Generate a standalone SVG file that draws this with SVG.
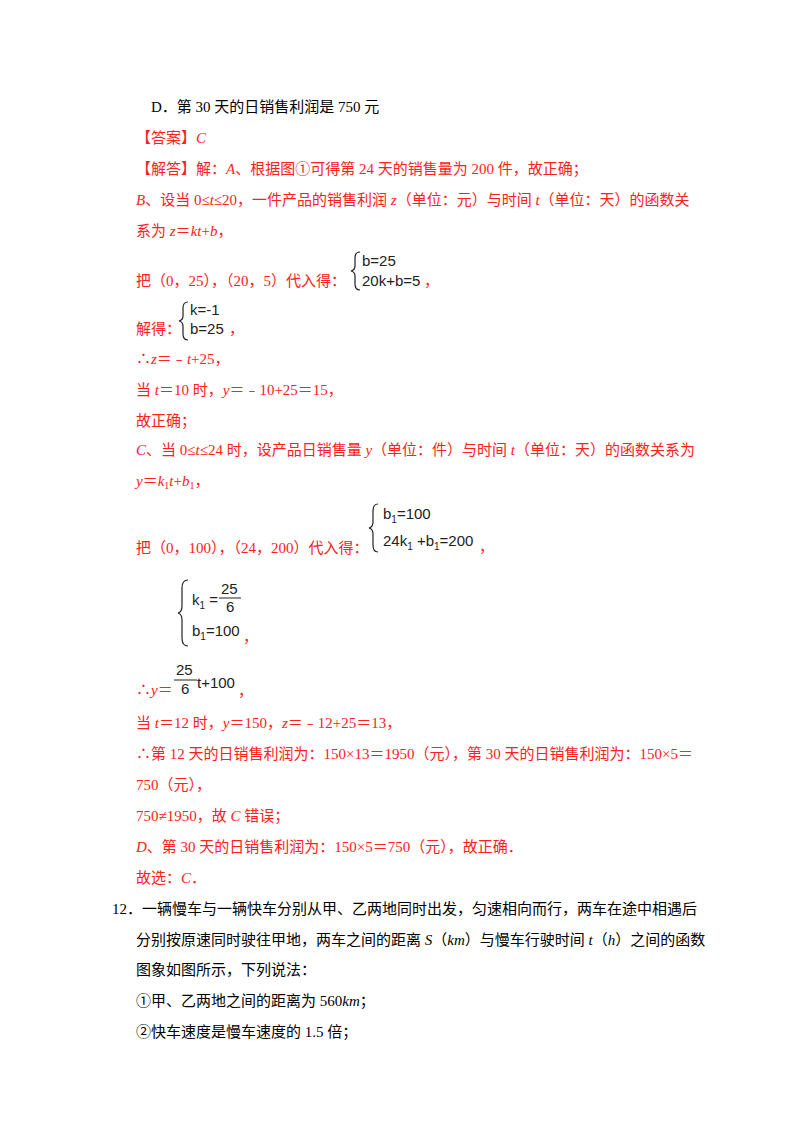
<svg xmlns="http://www.w3.org/2000/svg" width="800" height="1132" viewBox="0 0 800 1132">
<style>
text{font-family:"Liberation Serif","Noto Sans CJK SC",serif;font-size:15px;fill:#000}
.r{fill:#ff2020}
.m{font-family:"Liberation Sans","DejaVu Sans",sans-serif;font-size:15px;fill:#222}
.s{font-size:10px}
.br{fill:none;stroke:#222;stroke-width:1.2}
</style>
<rect width="800" height="1132" fill="#fff"/>
<text x="151" y="112">D．第 30 天的日销售利润是 750 元</text>
<text class="r" x="136" y="143">【答案】<tspan font-style="italic">C</tspan></text>
<text class="r" x="136" y="174">【解答】解：<tspan font-style="italic">A</tspan>、根据图①可得第 24 天的销售量为 200 件，故正确；</text>
<text class="r" x="136" y="205"><tspan font-style="italic">B</tspan>、设当 0≤<tspan font-style="italic">t</tspan>≤20，一件产品的销售利润 <tspan font-style="italic">z</tspan>（单位：元）与时间 <tspan font-style="italic">t</tspan>（单位：天）的函数关</text>
<text class="r" x="136" y="236">系为 <tspan font-style="italic">z</tspan>＝<tspan font-style="italic">kt</tspan>+<tspan font-style="italic">b</tspan>，</text>
<text class="r" x="136" y="286">把（0，25），（20，5）代入得：</text>
<path class="br" d="M360,252 q-5,0 -5,6 v8 q0,4 -4,5 q4,1 4,5 v8 q0,6 5,6"/>
<text class="m" x="362" y="266">b=25</text>
<text class="m" x="362" y="286">20k+b=5</text>
<text class="r" x="424" y="286">，</text>
<text class="r" x="136" y="334">解得：</text>
<path class="br" d="M188,302 q-5,0 -5,6 v8 q0,4 -4,5 q4,1 4,5 v8 q0,6 5,6"/>
<text class="m" x="190" y="315">k=-1</text>
<text class="m" x="190" y="334">b=25</text>
<text class="r" x="229" y="334">，</text>
<text class="r" x="136" y="364">∴<tspan font-style="italic">z</tspan>＝﹣<tspan font-style="italic">t</tspan>+25，</text>
<text class="r" x="136" y="395">当 <tspan font-style="italic">t</tspan>＝10 时，<tspan font-style="italic">y</tspan>＝﹣10+25＝15，</text>
<text class="r" x="136" y="426">故正确；</text>
<text class="r" x="136" y="455"><tspan font-style="italic">C</tspan>、当 0≤<tspan font-style="italic">t</tspan>≤24 时，设产品日销售量 <tspan font-style="italic">y</tspan>（单位：件）与时间 <tspan font-style="italic">t</tspan>（单位：天）的函数关系为</text>
<text class="r" x="136" y="486"><tspan font-style="italic">y</tspan>＝<tspan font-style="italic">k</tspan><tspan class="s" dy="3">1</tspan><tspan dy="-3" font-style="italic">t</tspan>+<tspan font-style="italic">b</tspan><tspan class="s" dy="3">1</tspan><tspan dy="-3">，</tspan></text>
<text class="r" x="136" y="553">把（0，100），（24，200）代入得：</text>
<path class="br" d="M378,504 q-5,0 -5,7 v11 q0,5 -4,6 q4,1 4,6 v11 q0,7 5,7"/>
<text class="m" x="383" y="519">b<tspan class="s" dy="4">1</tspan><tspan dy="-4">=100</tspan></text>
<text class="m" x="383" y="546">24k<tspan class="s" dy="4">1</tspan><tspan dy="-4"> +b</tspan><tspan class="s" dy="4">1</tspan><tspan dy="-4">=200</tspan></text>
<text class="r" x="479" y="552">，</text>
<path class="br" d="M188,580 q-6,0 -6,8 v18 q0,6 -4,7 q4,1 4,7 v18 q0,8 6,8"/>
<text class="m" x="192" y="605">k<tspan class="s" dy="4">1</tspan><tspan dy="-4"> =</tspan></text>
<text class="m" x="221" y="594">25</text>
<line x1="219" y1="598" x2="241" y2="598" stroke="#222" stroke-width="1"/>
<text class="m" x="226" y="612">6</text>
<text class="m" x="192" y="636">b<tspan class="s" dy="4">1</tspan><tspan dy="-4">=100</tspan></text>
<text class="r" x="243" y="642">，</text>
<text class="r" x="136" y="695">∴<tspan font-style="italic">y</tspan>＝</text>
<text class="m" x="176" y="675">25</text>
<line x1="174" y1="680" x2="197" y2="680" stroke="#222" stroke-width="1"/>
<text class="m" x="181" y="694">6</text>
<text class="m" x="197" y="688">t+100</text>
<text class="r" x="238" y="696">，</text>
<text class="r" x="136" y="728">当 <tspan font-style="italic">t</tspan>＝12 时，<tspan font-style="italic">y</tspan>＝150，<tspan font-style="italic">z</tspan>＝﹣12+25＝13，</text>
<text class="r" x="136" y="759">∴第 12 天的日销售利润为：150×13＝1950（元），第 30 天的日销售利润为：150×5＝</text>
<text class="r" x="136" y="790">750（元），</text>
<text class="r" x="136" y="821">750≠1950，故 <tspan font-style="italic">C</tspan> 错误；</text>
<text class="r" x="136" y="852"><tspan font-style="italic">D</tspan>、第 30 天的日销售利润为：150×5＝750（元），故正确．</text>
<text class="r" x="136" y="883">故选：<tspan font-style="italic">C</tspan>．</text>
<text x="112" y="914">12．一辆慢车与一辆快车分别从甲、乙两地同时出发，匀速相向而行，两车在途中相遇后</text>
<text x="136" y="945">分别按原速同时驶往甲地，两车之间的距离 <tspan font-style="italic">S</tspan>（<tspan font-style="italic">km</tspan>）与慢车行驶时间 <tspan font-style="italic">t</tspan>（<tspan font-style="italic">h</tspan>）之间的函数</text>
<text x="136" y="975">图象如图所示，下列说法：</text>
<text x="136" y="1006">①甲、乙两地之间的距离为 560<tspan font-style="italic">km</tspan>；</text>
<text x="136" y="1037">②快车速度是慢车速度的 1.5 倍；</text>
</svg>
